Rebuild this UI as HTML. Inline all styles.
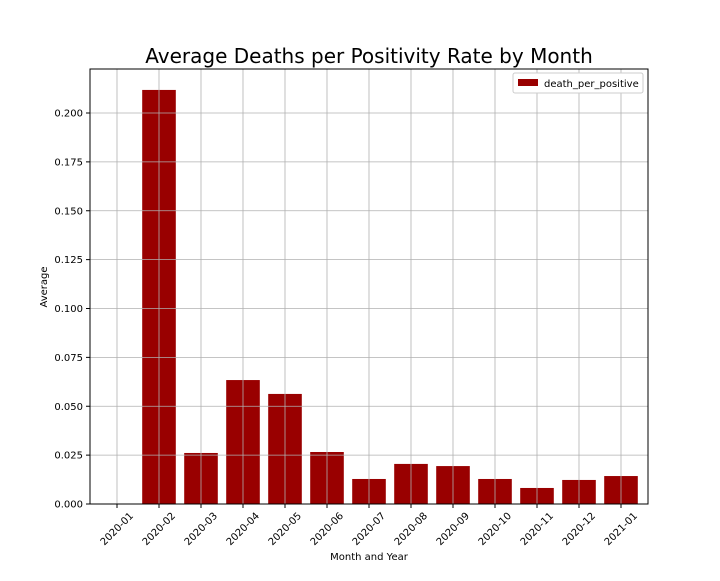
<!DOCTYPE html>
<html><head><meta charset="utf-8"><style>
body{margin:0;background:#fff;font-family:"Liberation Sans","DejaVu Sans",sans-serif;}
</style></head><body>
<svg id="chart" width="720" height="576" xmlns="http://www.w3.org/2000/svg" font-family="DejaVu Sans, Liberation Sans, sans-serif">
<rect width="720" height="576" fill="#fff"/>
<text x="369" y="63" text-anchor="middle" font-size="20">Average Deaths per Positivity Rate by Month</text>
<g id="bars"></g><g id="grid"></g><g id="ticks"></g>
<rect x="90" y="69" width="558" height="435" fill="none" stroke="#000" stroke-width="1"/>
<text x="369" y="560" text-anchor="middle" font-size="10">Month and Year</text>
<text transform="translate(47,287) rotate(-90)" text-anchor="middle" font-size="10">Average</text>
<g>
<rect x="513" y="73" width="130" height="20" fill="#fff" stroke="#ccc" rx="2"/>
<rect x="518" y="79" width="20" height="7" fill="#990000"/>
<text x="544" y="87" font-size="10">death_per_positive</text>
</g>
</svg>
<script>
const categories=["2020-01","2020-02","2020-03","2020-04","2020-05","2020-06","2020-07","2020-08","2020-09","2020-10","2020-11","2020-12","2021-01"];
const values=[0,0.2118,0.0261,0.0634,0.0563,0.0266,0.0128,0.0205,0.0194,0.0128,0.0082,0.0123,0.0143];
const yTicks=[0,0.025,0.05,0.075,0.1,0.125,0.15,0.175,0.2];
const NS="http://www.w3.org/2000/svg";
const L=90,R=648,T=69,B=504;
const step=42;
function xPos(i){return 117+i*step;}
function yPos(v){return B-v*(B-113)/0.2;}
function mk(t,a,p){const e=document.createElementNS(NS,t);for(const k in a)e.setAttribute(k,a[k]);p.appendChild(e);return e;}
const bars=document.getElementById('bars'),grid=document.getElementById('grid'),ticks=document.getElementById('ticks');
values.forEach((v,i)=>{
  const r=mk('rect',{x:xPos(i)-16.8,y:yPos(v),width:33.6,height:B-yPos(v),fill:'#990000'},bars);
  
  
});
categories.forEach((c,i)=>{
  const x=xPos(i);
  const g=mk('line',{x1:x,x2:x,y1:T,y2:B,stroke:'#b0b0b0','stroke-width':0.8},grid);
  
  
  mk('line',{x1:x,x2:x,y1:B,y2:B+4,stroke:'#000'},ticks);
  const t=mk('text',{transform:`translate(${x},${B+25}) rotate(-45)`,'text-anchor':'middle','dominant-baseline':'middle','font-size':10},ticks);
  t.textContent=c;
  
  
});
yTicks.forEach(v=>{
  const y=yPos(v);
  const g=mk('line',{x1:L,x2:R,y1:y,y2:y,stroke:'#b0b0b0','stroke-width':0.8},grid);
  
  
  mk('line',{x1:L-4,x2:L,y1:y,y2:y,stroke:'#000'},ticks);
  const t=mk('text',{x:L-7,y:y+3.5,'text-anchor':'end','font-size':10},ticks);
  t.textContent=v.toFixed(3);
  
  
});
</script>
</body></html>
